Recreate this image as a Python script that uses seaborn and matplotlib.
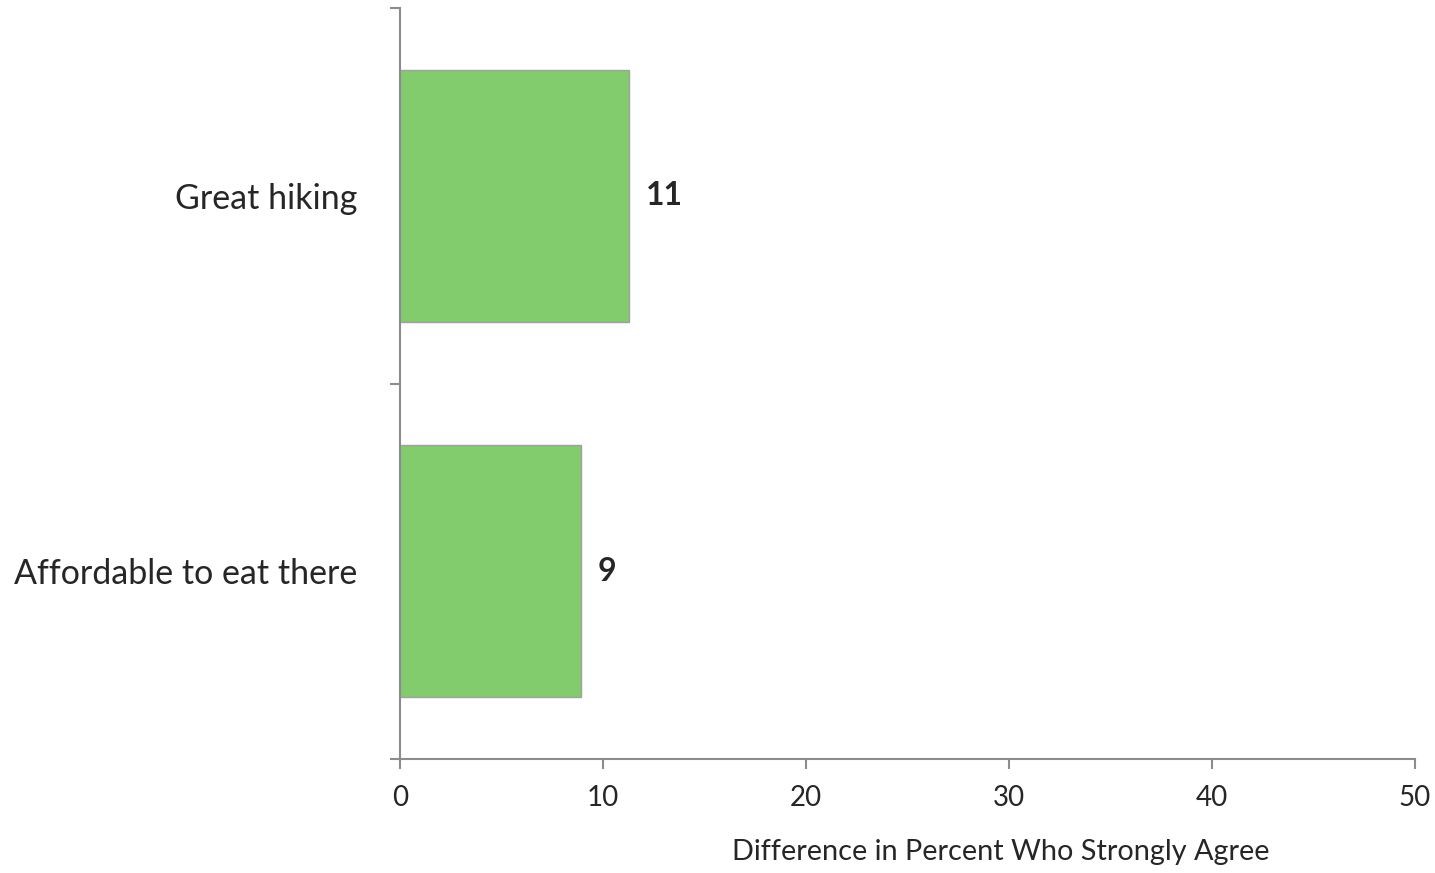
import matplotlib
matplotlib.use("Agg")
import matplotlib.pyplot as plt
import seaborn as sns
import pandas as pd
from matplotlib.ticker import FixedLocator

categories = ["Great hiking", "Affordable to eat there"]
values = [11.3, 8.9]
value_labels = ["11", "9"]
x_ticks = [0, 10, 20, 30, 40, 50]
x_label = "Difference in Percent Who Strongly Agree"

sns.set_theme(style="white")
plt.rcParams['font.family'] = ['Lato', 'DejaVu Sans']

df = pd.DataFrame({"category": categories, "value": values})

fig = plt.figure(figsize=(14.35, 8.73), dpi=100)
ax = fig.add_axes([400/1435, 1-759/873, 1015/1435, 751/873])

sns.barplot(data=df, x="value", y="category", orient="h", color="#82CC6E",
            saturation=1, width=0.67, edgecolor="#a0a0a0", linewidth=1, ax=ax)

ax.set_xlim(0, 50)
ax.set_ylim(1.5, -0.5)
ax.set_xticks(x_ticks)
ax.set_xticklabels([str(t) for t in x_ticks], fontsize=20, color="#262626")

axis_col = "#8c8c8c"
for side in ["top", "right"]:
    ax.spines[side].set_visible(False)
for side in ["left", "bottom"]:
    ax.spines[side].set_color(axis_col)
    ax.spines[side].set_linewidth(1.5)

ax.tick_params(axis="x", which="major", direction="out", length=7, width=1.5,
               color=axis_col, pad=12, bottom=True)
ax.tick_params(axis="y", which="major", length=0, pad=31, labelsize=24.5,
               labelcolor="#262626")
ax.yaxis.set_minor_locator(FixedLocator([-0.5, 0.5, 1.5]))
ax.tick_params(axis="y", which="minor", direction="out", length=7, width=1.5,
               color=axis_col, left=True)

ax.set_ylabel("")
ax.set_xlabel(x_label, fontsize=20.8, color="#262626")
ax.xaxis.set_label_coords((1001-400)/1015, -(852-759)/751)
ax.xaxis.label.set_va("center")

for i, (v, lab) in enumerate(zip(values, value_labels)):
    ax.annotate(lab, xy=(v, i), xytext=(12, 0), textcoords="offset points",
                va="center", ha="left", fontsize=23, fontweight="bold",
                color="#262626")

fig.savefig("out.png", dpi=100)
